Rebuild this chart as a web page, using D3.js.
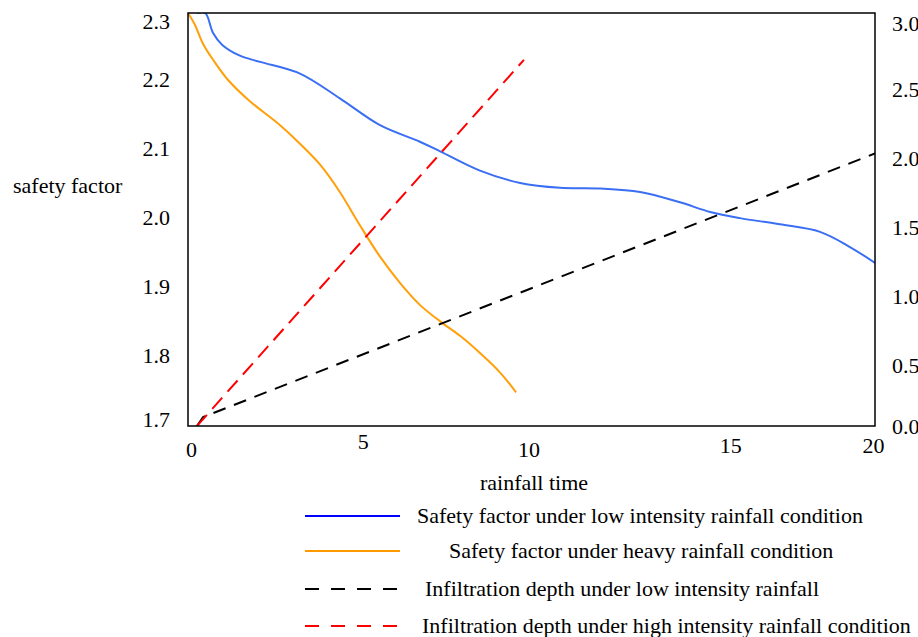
<!DOCTYPE html>
<html lang="en">
<head>
  <meta charset="UTF-8">
  <title></title>
  <style>
    html, body {
      margin: 0;
      overflow: hidden;
      background: #fff;
    }
    svg {
      display: block;
      font-family: "Liberation Serif", "Times New Roman", serif;
    }
  </style>
</head>
<body>
  <svg width="918" height="637"></svg>
</body>
<script src="https://d3js.org/d3.v7.min.js"></script>
<script type="text/javascript">
  // data: [rainfall time, value]
  const lowSafety = [
    [0.26, 2.3], [0.5, 2.3], [0.73, 2.271], [0.99, 2.254], [1.51, 2.238],
    [2.1, 2.229], [3.26, 2.212], [4.42, 2.176], [5.59, 2.137], [6.75, 2.113],
    [7.34, 2.099], [8.5, 2.071], [9.67, 2.053], [10.83, 2.046], [12.0, 2.045],
    [13.16, 2.04], [14.32, 2.025], [15.2, 2.011], [16.07, 2.002], [17.23, 1.993],
    [18.4, 1.982], [19.27, 1.96], [20, 1.937]
  ]
  const heavySafety = [
    [0, 2.3], [0.2, 2.283], [0.44, 2.255], [0.73, 2.232], [1.16, 2.203],
    [1.75, 2.174], [2.68, 2.137], [3.26, 2.11], [3.84, 2.08], [4.42, 2.04],
    [5.0, 1.992], [5.59, 1.946], [6.17, 1.908], [6.75, 1.876], [7.34, 1.852],
    [7.92, 1.831], [8.5, 1.806], [9.08, 1.778], [9.55, 1.749]
  ]
  const lowDepth = [[0.26, 0.0], [0.44, 0.065], [20, 1.98]]
  const highDepth = [[0.26, 0.0], [9.78, 2.66]]

  const xTicks = [0, 5, 10, 15, 20]
  const leftTicks = [1.7, 1.8, 1.9, 2.0, 2.1, 2.2, 2.3]
  const rightTicks = [0.0, 0.5, 1.0, 1.5, 2.0, 2.5, 3.0]

  const legendLabels = [
    'Safety factor under low intensity rainfall condition',
    'Safety factor under heavy rainfall condition',
    'Infiltration depth under low intensity rainfall',
    'Infiltration depth under high intensity rainfall condition'
  ]

  // styles / layout
  const svg = d3.select('svg')
  const plot = {left: 188, right: 875, top: 13, bottom: 426}
  const fontSize = 22
  const colors = {low: '#3a6ff4', heavy: '#ffa00a', lowDepth: '#000', highDepth: '#ff0000'}
  const legendColors = ['#0000ff', '#ff9900', '#000', '#ff0000']
  const legendDash = [null, null, '14,12', '14,12']
  const legendY = [516, 551, 589, 626]
  const legendTextX = [417, 449, 425, 422]
  const xLabelNudge = {0: [3, 4], 5: [3, -4], 10: [-3, 4], 15: [27, 0], 20: [-2, 0]}

  const x = d3.scaleLinear().domain([0, 20]).range([plot.left, plot.right])
  const yL = d3.scaleLinear().domain([1.7, 2.3]).range([plot.bottom, plot.top])
  const yR = d3.scaleLinear().domain([0, 3]).range([plot.bottom, plot.top])

  const smooth = y => d3.line().x(d => x(d[0])).y(d => y(d[1])).curve(d3.curveCatmullRom.alpha(0.5))
  const straight = y => d3.line().x(d => x(d[0])).y(d => y(d[1]))

  svg.append('clipPath')
    .attr('id', 'plot-clip')
    .append('rect')
      .attr('x', plot.left)
      .attr('y', plot.top)
      .attr('width', plot.right - plot.left)
      .attr('height', plot.bottom - plot.top)

  const lines = svg.append('g').attr('clip-path', 'url(#plot-clip)')

  // curves
  lines.append('path')
    .attr('d', smooth(yL)(lowSafety))
    .attr('fill', 'none')
    .attr('stroke', colors.low)
    .attr('stroke-width', 2)

  lines.append('path')
    .attr('d', smooth(yL)(heavySafety))
    .attr('fill', 'none')
    .attr('stroke', colors.heavy)
    .attr('stroke-width', 2)

  lines.append('path')
    .attr('d', straight(yR)(lowDepth))
    .attr('fill', 'none')
    .attr('stroke', colors.lowDepth)
    .attr('stroke-width', 2)
    .attr('stroke-dasharray', '13,9')

  lines.append('path')
    .attr('d', straight(yR)(highDepth))
    .attr('fill', 'none')
    .attr('stroke', colors.highDepth)
    .attr('stroke-width', 2)
    .attr('stroke-dasharray', '15,8')

  // frame
  svg.append('rect')
    .attr('x', plot.left)
    .attr('y', plot.top)
    .attr('width', plot.right - plot.left)
    .attr('height', plot.bottom - plot.top)
    .attr('fill', 'none')
    .attr('stroke', '#000')
    .attr('stroke-width', 1.5)

  // axes (labels only, no tick marks)
  const clamp = (v, lo, hi) => Math.max(lo, Math.min(hi, v))

  const gx = svg.append('g')
    .attr('transform', `translate(0,${plot.bottom})`)
    .call(d3.axisBottom(x).tickValues(xTicks).tickSize(0).tickFormat(d3.format('d')))
  gx.selectAll('text')
    .attr('dy', null)
    .attr('y', d => 27 + xLabelNudge[d][1])
    .attr('x', d => xLabelNudge[d][0])

  const gl = svg.append('g')
    .attr('transform', 'translate(170,0)')
    .call(d3.axisLeft(yL).tickValues(leftTicks).tickSize(0).tickPadding(0).tickFormat(d3.format('.1f')))
  gl.selectAll('text')
    .attr('dy', null)
    .attr('y', d => clamp(yL(d) + 5, 28, plot.bottom) - yL(d))

  const gr = svg.append('g')
    .attr('transform', 'translate(892,0)')
    .call(d3.axisRight(yR).tickValues(rightTicks).tickSize(0).tickPadding(0).tickFormat(d3.format('.1f')))
  gr.selectAll('text')
    .attr('dy', null)
    .attr('y', d => clamp(yR(d) + 15, 30, 433) - yR(d))

  svg.selectAll('.domain').remove()
  for (const g of [gx, gl, gr]) {
    g.attr('font-family', null).attr('font-size', fontSize)
  }
  svg.selectAll('.tick text').attr('fill', '#000')

  // axis titles
  svg.append('text')
    .attr('x', 13)
    .attr('y', 193)
    .attr('font-size', fontSize)
    .text('safety factor')

  svg.append('text')
    .attr('x', 534)
    .attr('y', 490)
    .attr('text-anchor', 'middle')
    .attr('font-size', fontSize)
    .text('rainfall time')

  // legend
  const legend = svg.append('g')
    .selectAll('g')
    .data(legendLabels)
    .enter().append('g')

  legend.append('line')
    .attr('x1', 305)
    .attr('x2', 400)
    .attr('y1', (d, i) => legendY[i])
    .attr('y2', (d, i) => legendY[i])
    .attr('stroke', (d, i) => legendColors[i])
    .attr('stroke-width', 2)
    .attr('stroke-dasharray', (d, i) => legendDash[i])

  legend.append('text')
    .attr('x', (d, i) => legendTextX[i])
    .attr('y', (d, i) => legendY[i] + 7)
    .attr('font-size', fontSize)
    .text(d => d)
</script>
</html>
